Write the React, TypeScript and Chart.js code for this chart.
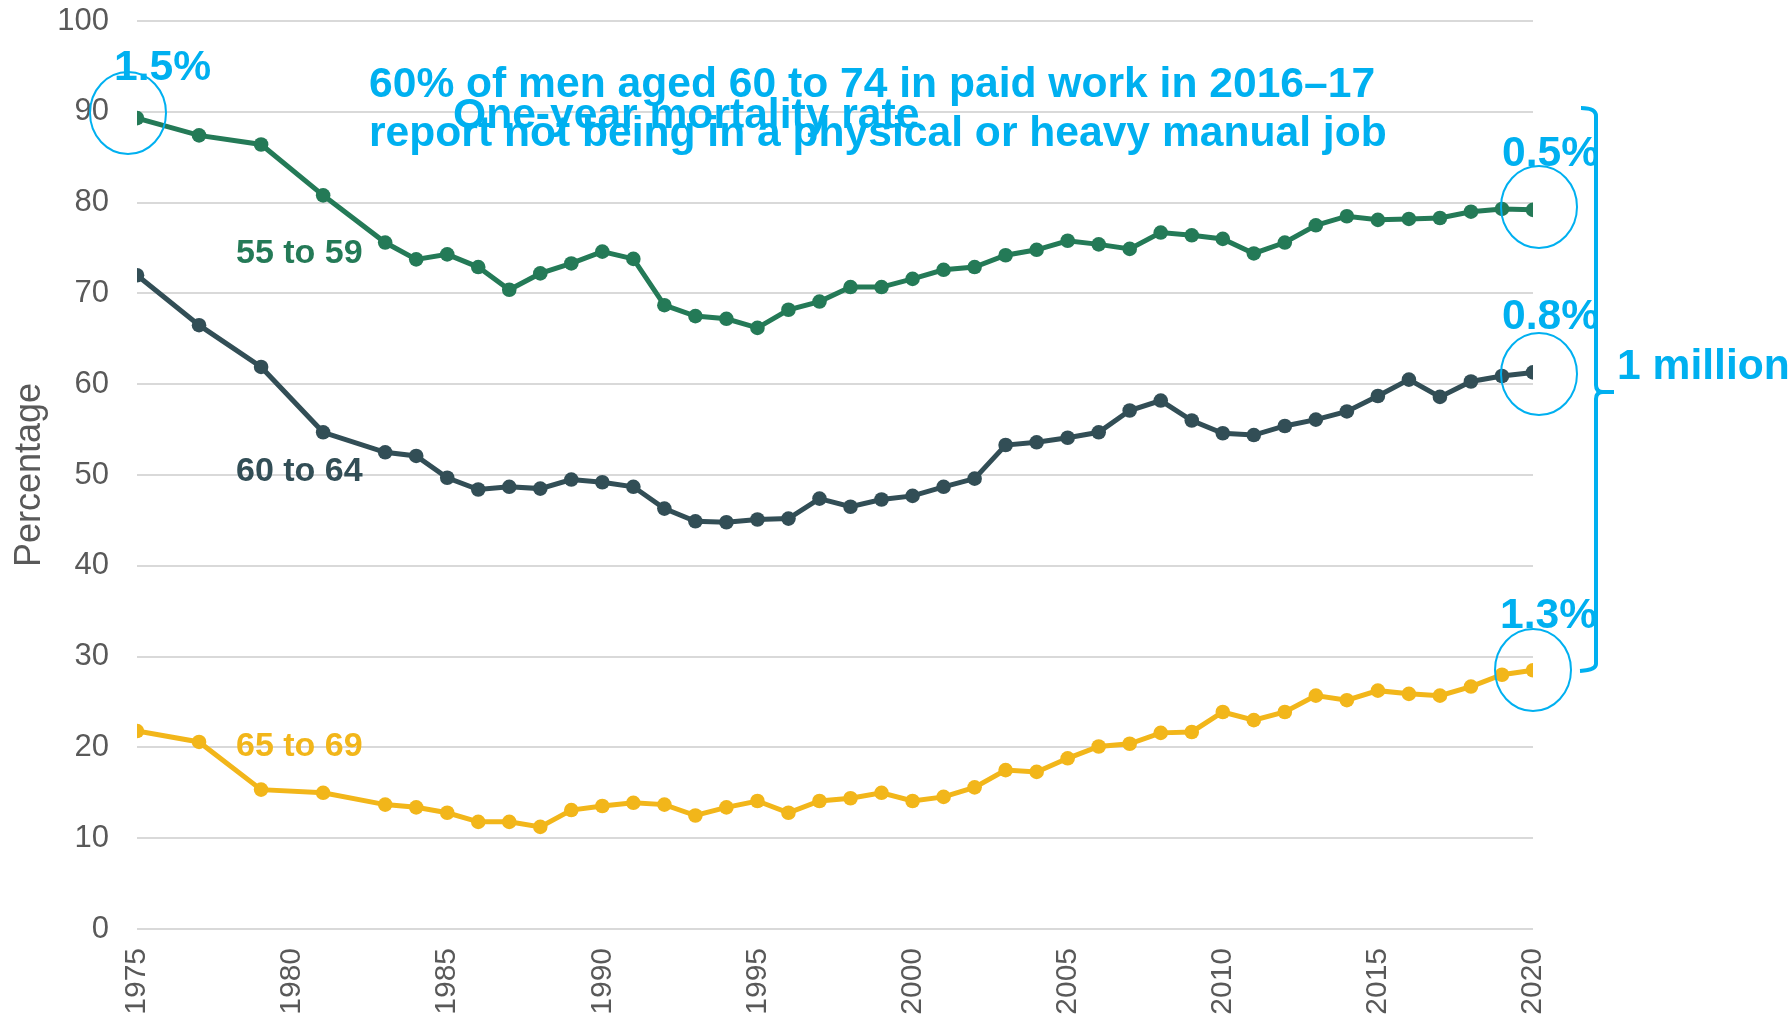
import React, { useEffect, useRef } from "react";
import { Chart, registerables } from "chart.js";

Chart.register(...registerables);

const years = [
  1975, 1977, 1979, 1981, 1983, 1984, 1985, 1986, 1987, 1988, 1989, 1990, 1991, 1992,
  1993, 1994, 1995, 1996, 1997, 1998, 1999, 2000, 2001, 2002, 2003, 2004, 2005, 2006,
  2007, 2008, 2009, 2010, 2011, 2012, 2013, 2014, 2015, 2016, 2017, 2018, 2019, 2020,
];

const age55to59 = [
  89.3, 87.4, 86.4, 80.8, 75.6, 73.75, 74.3, 72.9, 70.4, 72.2, 73.3, 74.6, 73.8, 68.7,
  67.5, 67.2, 66.2, 68.2, 69.1, 70.7, 70.7, 71.6, 72.6, 72.9, 74.2, 74.8, 75.8, 75.4,
  74.9, 76.7, 76.4, 76.0, 74.4, 75.6, 77.5, 78.5, 78.1, 78.2, 78.3, 79.0, 79.3, 79.2,
];

const age60to64 = [
  72.0, 66.5, 61.9, 54.7, 52.5, 52.1, 49.7, 48.4, 48.7, 48.5, 49.5, 49.2, 48.7, 46.3,
  44.9, 44.8, 45.1, 45.2, 47.4, 46.5, 47.3, 47.7, 48.7, 49.6, 53.3, 53.6, 54.1, 54.7,
  57.1, 58.2, 56.0, 54.6, 54.4, 55.4, 56.1, 57.0, 58.7, 60.5, 58.6, 60.3, 60.9, 61.3,
];

const age65to69 = [
  21.8, 20.6, 15.35, 15.0, 13.7, 13.4, 12.8, 11.8, 11.8, 11.25, 13.1, 13.55, 13.9, 13.7,
  12.5, 13.4, 14.1, 12.8, 14.1, 14.4, 15.0, 14.1, 14.55, 15.6, 17.5, 17.3, 18.8, 20.1,
  20.4, 21.6, 21.7, 23.9, 23.0, 23.9, 25.7, 25.2, 26.25, 25.9, 25.7, 26.7, 28.0, 28.5,
];

const seriesNames = ["55 to 59", "60 to 64", "65 to 69"];
const yTicks = [0, 10, 20, 30, 40, 50, 60, 70, 80, 90, 100];
const xTicks = [1975, 1980, 1985, 1990, 1995, 2000, 2005, 2010, 2015, 2020];

const GREEN = "#247A57";
const DARK = "#324E56";
const YELLOW = "#F2B61A";
const CYAN = "#00B0F0";
const GREY = "#595959";
const FONT = "'Liberation Sans', Arial, sans-serif";

const W = 1791;
const H = 1020;

const annotationPlugin = {
  id: "annotations",
  afterDraw(chart: any) {
    const ctx = chart.ctx as CanvasRenderingContext2D;
    ctx.save();

    // circles
    ctx.strokeStyle = CYAN;
    ctx.lineWidth = 2;
    const circles = [
      [128, 113],
      [1539, 207],
      [1539, 374],
      [1533, 670],
    ];
    for (const [cx, cy] of circles) {
      ctx.beginPath();
      ctx.ellipse(cx, cy, 38, 41, 0, 0, Math.PI * 2);
      ctx.stroke();
    }

    // bracket
    ctx.lineWidth = 4;
    ctx.lineCap = "butt";
    ctx.beginPath();
    ctx.moveTo(1581, 108);
    ctx.quadraticCurveTo(1596, 108, 1596, 116);
    ctx.lineTo(1596, 385);
    ctx.quadraticCurveTo(1596, 392, 1603, 392);
    ctx.lineTo(1614, 392);
    ctx.moveTo(1603, 392);
    ctx.quadraticCurveTo(1596, 392, 1596, 399);
    ctx.lineTo(1596, 664);
    ctx.quadraticCurveTo(1596, 670, 1580, 671);
    ctx.stroke();

    // cyan texts
    ctx.fillStyle = CYAN;
    ctx.textAlign = "left";
    ctx.textBaseline = "alphabetic";
    ctx.font = `bold 42.6px ${FONT}`;
    ctx.fillText("1.5%", 114, 80);
    ctx.fillText("60% of men aged 60 to 74 in paid work in 2016\u201317", 369, 97);
    ctx.fillText("report not being in a physical or heavy manual job", 369, 146);
    ctx.fillText("One-year mortality rate", 453, 128);
    ctx.fillText("0.5%", 1502, 166);
    ctx.fillText("0.8%", 1502, 329);
    ctx.fillText("1.3%", 1500, 628);
    ctx.fillText("1 million", 1617, 379);

    // series labels
    ctx.font = `bold 34px ${FONT}`;
    ctx.fillStyle = GREEN;
    ctx.fillText(seriesNames[0], 236, 263);
    ctx.fillStyle = DARK;
    ctx.fillText(seriesNames[1], 236, 481);
    ctx.fillStyle = YELLOW;
    ctx.fillText(seriesNames[2], 236, 756);

    ctx.restore();
  },
};

export default function App() {
  const canvasRef = useRef<HTMLCanvasElement | null>(null);

  useEffect(() => {
    if (!canvasRef.current) return;
    const mk = (vals: number[]) => years.map((x, i) => ({ x, y: vals[i] }));
    const ds = (label: string, vals: number[], color: string) => ({
      label,
      data: mk(vals),
      borderColor: color,
      backgroundColor: color,
      borderWidth: 5,
      pointRadius: 7.3,
      pointBorderWidth: 0,
      pointBackgroundColor: color,
      tension: 0,
    });
    const chart = new Chart(canvasRef.current, {
      type: "line",
      data: {
        datasets: [
          ds(seriesNames[2], age65to69, YELLOW),
          ds(seriesNames[1], age60to64, DARK),
          ds(seriesNames[0], age55to59, GREEN),
        ],
      },
      options: {
        responsive: false,
        animation: false,
        events: [],
        layout: { padding: { left: 0, right: W - 1533, top: 21, bottom: 0 } },
        plugins: {
          legend: { display: false },
          tooltip: { enabled: false },
          title: { display: false },
        },
        scales: {
          x: {
            type: "linear",
            min: xTicks[0],
            max: xTicks[xTicks.length - 1],
            afterBuildTicks: (s: any) => {
              s.ticks = xTicks.map((v) => ({ value: v }));
            },
            ticks: {
              maxRotation: 90,
              minRotation: 90,
              padding: 19,
              color: GREY,
              font: { family: FONT, size: 30 },
              callback: (v: any) => String(v),
            },
            grid: { display: false, drawTicks: false },
            border: { display: false },
            afterFit: (s: any) => {
              s.height = H - 929;
            },
          },
          y: {
            min: 0,
            max: 100,
            afterBuildTicks: (s: any) => {
              s.ticks = yTicks.map((v) => ({ value: v }));
            },
            ticks: {
              padding: 28,
              color: GREY,
              font: { family: FONT, size: 31 },
              callback: (v: any) => String(v),
            },
            grid: { color: "#D9D9D9", lineWidth: 2, drawTicks: false },
            border: { display: false },
            title: {
              display: true,
              text: "Percentage",
              color: GREY,
              font: { family: FONT, size: 36 },
              padding: { top: 8, bottom: 0 },
            },
            afterFit: (s: any) => {
              s.width = 137;
              s.paddingTop = 0;
              s.paddingBottom = 0;
            },
          },
        },
      },
      plugins: [annotationPlugin],
    });
    return () => chart.destroy();
  }, []);

  return (
    <div style={{ position: "absolute", left: 0, top: 0, width: W, height: H, background: "#fff" }}>
      <canvas ref={canvasRef} width={W} height={H} style={{ width: W, height: H, display: "block" }} />
    </div>
  );
}
